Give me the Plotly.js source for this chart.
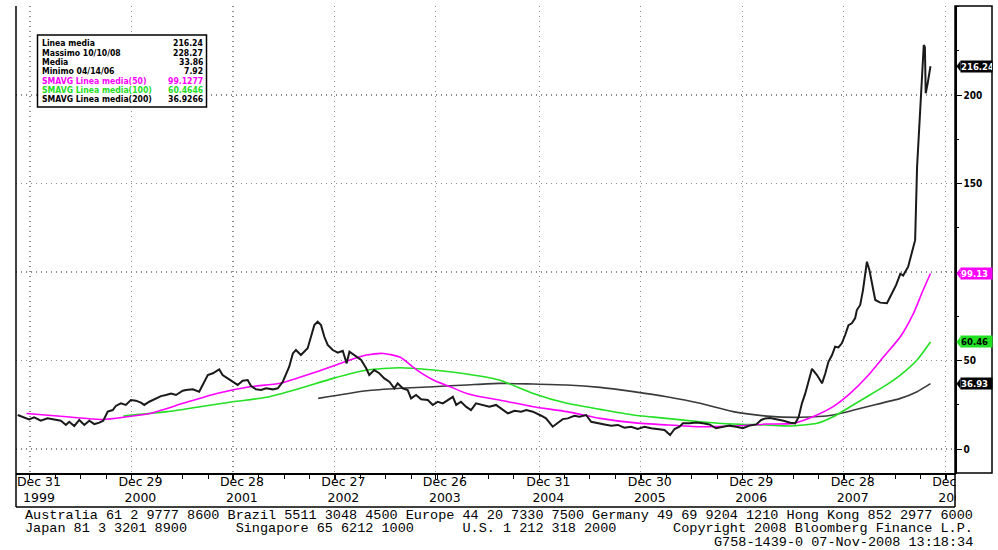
<!DOCTYPE html>
<html><head><meta charset="utf-8">
<script src="https://cdn.plot.ly/plotly-3.0.1.min.js"></script>
<style>html,body{margin:0;padding:0;background:#fff;}#chart{width:998px;height:550px;}</style>
</head><body><div id="chart"></div>
<script>
// ---- DATA ----
const priceDates = ['1999-11-17','1999-12-05','1999-12-28','2000-01-15','2000-02-08','2000-03-03','2000-03-27','2000-04-20','2000-05-08','2000-05-20','2000-06-07','2000-06-25','2000-07-13','2000-07-31','2000-08-18','2000-09-05','2000-09-19','2000-10-05','2000-10-23','2000-11-03','2000-11-21','2000-12-09','2000-12-27',
'2001-01-14','2001-02-01','2001-02-13','2001-03-03','2001-03-27','2001-04-14','2001-05-02','2001-05-20','2001-06-07','2001-07-01','2001-07-13','2001-08-06','2001-08-29','2001-09-16','2001-09-29','2001-10-17','2001-10-28','2001-11-09','2001-11-21','2001-12-09','2001-12-27',
'2002-01-14','2002-02-01','2002-02-19','2002-03-03','2002-03-21','2002-04-08','2002-04-26','2002-05-20','2002-06-07','2002-06-25','2002-07-07','2002-07-18','2002-07-31','2002-08-11','2002-08-29','2002-09-10','2002-09-22','2002-10-04','2002-10-16','2002-10-28','2002-11-09','2002-11-21','2002-12-03','2002-12-21',
'2003-01-08','2003-01-26','2003-02-09','2003-02-19','2003-03-09','2003-04-02','2003-04-20','2003-05-01','2003-05-19','2003-06-06','2003-06-24','2003-07-12','2003-07-30','2003-08-11','2003-08-29','2003-09-16','2003-09-28','2003-10-16','2003-11-03','2003-11-27','2003-12-15',
'2004-01-02','2004-01-20','2004-02-07','2004-02-25','2004-03-08','2004-03-25','2004-04-12','2004-04-30','2004-05-18','2004-06-11','2004-07-05','2004-07-29','2004-08-22','2004-09-09','2004-10-03','2004-10-27','2004-11-14','2004-12-08',
'2005-01-07','2005-01-24','2005-02-17','2005-03-07','2005-03-25','2005-04-12','2005-05-06','2005-05-24','2005-06-17','2005-07-05','2005-07-29','2005-08-22','2005-09-15','2005-10-09','2005-11-01','2005-11-25','2005-12-19',
'2006-01-12','2006-02-05','2006-03-01','2006-03-25','2006-04-14','2006-04-30','2006-05-18','2006-05-30','2006-06-23','2006-07-17','2006-08-10','2006-09-02','2006-09-26','2006-10-20','2006-11-13','2006-12-07','2006-12-31',
'2007-01-24','2007-02-17','2007-03-07','2007-03-22','2007-04-08','2007-05-02','2007-05-26','2007-06-19','2007-07-07','2007-07-19','2007-07-31','2007-08-12','2007-08-24','2007-09-05','2007-09-23','2007-10-11','2007-10-23','2007-11-03','2007-11-16','2007-11-27','2007-12-09','2007-12-21',
'2008-01-02','2008-01-14','2008-01-26','2008-02-07','2008-02-13','2008-02-25','2008-03-06','2008-03-14','2008-03-20','2008-03-29','2008-04-05','2008-04-19','2008-05-07','2008-05-31','2008-06-18','2008-07-03','2008-07-18','2008-07-28','2008-08-15','2008-08-29','2008-09-09','2008-09-16','2008-09-21','2008-09-30','2008-10-10','2008-10-14','2008-10-17','2008-10-24','2008-11-03'];
const priceVals = [19.2,18.2,16.7,17.9,16.0,17.3,16.7,16.0,13.6,15.4,13.0,16.4,13.6,16.0,14.1,14.9,16.0,21.1,22.0,24.3,25.8,24.9,27.7,
27.3,26.2,24.9,26.7,28.6,29.9,30.5,31.4,30.5,32.9,33.3,33.7,32.4,38.0,41.8,42.8,43.7,45.0,41.8,40.0,38.0,
36.2,38.6,39.0,35.6,33.7,33.3,34.3,33.7,34.3,38.0,42.8,46.5,54.0,55.9,53.1,55.0,56.9,63.4,70.0,71.9,70.0,63.4,58.8,55.9,
54.4,55.5,48.4,55.0,53.1,50.3,45.6,41.8,44.6,42.8,39.9,38.0,34.3,37.1,34.3,33.3,28.6,30.5,28.1,27.7,24.9,
26.7,25.8,27.7,29.5,24.9,26.7,23.9,22.0,25.8,24.9,23.9,24.9,22.0,20.1,21.6,21.1,22.0,21.1,
18.8,17.3,12.6,14.5,16.9,17.3,18.8,18.2,19.2,15.4,14.5,13.9,13.2,13.6,12.0,12.6,11.3,
12.6,11.7,11.3,10.7,7.92,11.3,12.6,14.5,14.5,15.0,14.5,13.9,11.7,12.6,13.2,12.6,11.7,
13.2,13.9,16.4,17.3,17.5,16.8,16.0,14.8,14.5,18.0,25.8,31.4,38.0,45.3,41.8,37.1,42.8,49.3,53.1,57.8,57.4,59.7,
64.4,70.0,71.0,74.0,78.5,81.4,89.8,100.2,105.8,101.1,95.0,84.2,82.7,82.4,88.0,92.7,99.0,98.0,103.0,112.4,118.0,159.5,174.6,204.7,228.27,227.0,201.0,206.6,216.24];

const sma50Dates = ['1999-12-19','2000-05-11','2000-09-18','2000-12-12','2001-03-06','2001-07-02','2001-10-31','2002-02-27','2002-06-15','2002-10-25','2003-02-21','2003-04-22','2003-06-21','2003-08-20','2003-10-19','2003-12-17','2004-02-15','2004-04-15','2004-06-14','2004-08-09','2004-12-09','2005-04-09','2005-08-06','2005-12-03','2006-04-02','2006-07-31','2006-11-26','2007-03-27','2007-06-30','2007-09-23','2007-11-20','2008-01-20','2008-03-20','2008-05-19','2008-07-18','2008-09-03','2008-10-03','2008-11-03'];
const sma50Vals = [20.1,18.2,16.7,18.2,20.1,25.8,31.4,35.2,37.1,43.7,50.3,53.1,54.0,51.8,44.6,39.0,35.2,31.4,29.2,27.7,23.9,21.1,17.3,14.9,13.6,12.6,13.0,14.1,14.5,19.2,23.9,31.4,40.8,52.1,63.4,76.6,88.0,99.13];

const sma100Dates = ['2000-11-30','2001-05-05','2001-09-01','2001-12-28','2002-04-28','2002-08-26','2002-12-22','2003-04-22','2003-08-20','2003-12-17','2004-04-15','2004-08-09','2004-12-09','2005-04-09','2005-08-06','2005-12-03','2006-04-02','2006-07-31','2006-11-26','2007-03-27','2007-06-19','2007-09-23','2007-11-20','2008-01-20','2008-03-20','2008-05-19','2008-07-18','2008-09-16','2008-11-03'];
const sma100Vals = [18.6,21.1,23.9,26.7,29.2,34.3,39.9,44.6,45.9,44.6,42.4,39.0,31.4,25.8,22.4,19.2,17.3,15.4,14.1,13.6,13.0,14.5,18.2,23.9,29.5,35.2,41.8,50.3,60.46];

const sma200Dates = ['2002-10-30','2003-04-22','2003-08-20','2003-12-17','2004-04-15','2004-08-09','2004-12-09','2005-04-09','2005-08-06','2005-12-03','2006-04-02','2006-07-31','2006-11-26','2007-03-27','2007-07-25','2007-11-20','2008-03-20','2008-07-18','2008-09-16','2008-11-03'];
const sma200Vals = [28.6,32.9,34.3,35.2,36.2,37.1,36.7,36.2,34.8,32.4,29.5,25.8,21.1,18.6,17.9,19.2,23.9,28.6,32.4,36.93];

const xTickDates = ['1999-12-31','2000-12-29','2001-12-28','2002-12-27','2003-12-26','2004-12-31','2005-12-30','2006-12-29','2007-12-28','2008-12-26'];
const xTickLabels = ['Dec 31<br>1999','Dec 29<br>2000','Dec 28<br>2001','Dec 27<br>2002','Dec 26<br>2003','Dec 31<br>2004','Dec 30<br>2005','Dec 29<br>2006','Dec 28<br>2007','Dec 26<br>2008'];
const yTicks = [0, 50, 100, 150, 200];
const yTickLabels = ['0', '50', '', '150', '200'];  // 100 is hidden behind the SMA(50) tag in the original

const legendLabels = ['Linea media','Massimo 10/10/08','Media','Minimo 04/14/06','SMAVG Linea media(50)','SMAVG Linea media(100)','SMAVG Linea media(200)'];
const legendValues = ['216.24','228.27','33.86','7.92','99.1277','60.4646','36.9266'];

const footerLines = [
 'Australia 61 2 9777 8600 Brazil 5511 3048 4500 Europe 44 20 7330 7500 Germany 49 69 9204 1210 Hong Kong 852 2977 6000',
 'Japan 81 3 3201 8900      Singapore 65 6212 1000      U.S. 1 212 318 2000       Copyright 2008 Bloomberg Finance L.P.',
 'G758-1439-0 07-Nov-2008 13:18:34'
];

// ---- STYLE / LAYOUT ----
const C_PRICE = '#1a1a1a', C50 = '#ff00ff', C100 = '#22e022', C200 = '#3a3a3a';
const legendColors = ['#000','#000','#000','#000',C50,C100,'#000'];
const L = 16, R = 955, T = 6, B = 473;
const px = x => (x - L) / (R - L);
const py = y => (B - y) / (B - T);

const traces = [
  {x: sma200Dates, y: sma200Vals, type:'scatter', mode:'lines', line:{color:C200, width:1.6, shape:'spline', smoothing:0.6}},
  {x: sma100Dates, y: sma100Vals, type:'scatter', mode:'lines', line:{color:C100, width:1.6, shape:'spline', smoothing:0.6}},
  {x: sma50Dates, y: sma50Vals, type:'scatter', mode:'lines', line:{color:C50, width:1.6, shape:'spline', smoothing:0.6}},
  {x: priceDates, y: priceVals, type:'scatter', mode:'lines', line:{color:C_PRICE, width:2}}
];

const gridStyle = {showgrid:true, gridcolor:'#8c8c8c', griddash:'1px,4px', gridwidth:1.2};

const annotations = [];
const lfont = {family:'DejaVu Sans Condensed, sans-serif', size:8.6, weight:'bold'};
legendLabels.forEach((t, i) => {
  const yy = py(43.3 + i * 9.33);
  annotations.push({xref:'paper', yref:'paper', x:px(40.5), y:yy, xanchor:'left', yanchor:'middle', showarrow:false, text:t, font:Object.assign({}, lfont, {color:legendColors[i]}), borderpad:0});
  annotations.push({xref:'paper', yref:'paper', x:px(204), y:yy, xanchor:'right', yanchor:'middle', showarrow:false, text:legendValues[i], font:Object.assign({}, lfont, {color:legendColors[i]}), borderpad:0});
});

const lastTags = [
  {v: priceVals[priceVals.length-1], bg:'#000', fg:'#fff'},
  {v: sma50Vals[sma50Vals.length-1], bg:C50, fg:'#fff'},
  {v: sma100Vals[sma100Vals.length-1], bg:C100, fg:'#000'},
  {v: sma200Vals[sma200Vals.length-1], bg:'#000', fg:'#fff'}
];
const shapes = [
  {type:'rect', xref:'paper', yref:'paper', x0:px(37.5), x1:px(206.5), y0:py(107), y1:py(35), fillcolor:'#fff', line:{color:'#000', width:1.5}, layer:'above'},
  {type:'rect', xref:'paper', yref:'paper', x0:px(956), x1:px(998), y0:py(508), y1:py(474), fillcolor:'#fff', line:{width:0}, layer:'above'},
  {type:'rect', xref:'paper', yref:'paper', x0:1, x1:px(992), y0:0, y1:1, line:{color:'#000', width:1.5}, layer:'above'},
  {type:'line', xref:'paper', yref:'paper', x0:0, x1:0, y0:py(507), y1:1, line:{color:'#000', width:1.5}, layer:'above'},
  {type:'line', xref:'paper', yref:'paper', x0:0, x1:1, y0:py(507), y1:py(507), line:{color:'#000', width:1.5}, layer:'above'},
  {type:'line', xref:'paper', yref:'paper', x0:1, x1:1, y0:py(507), y1:0, line:{color:'#000', width:1.5}, layer:'above'}
];
lastTags.forEach(tg => {
  shapes.push({type:'path', xref:'paper', yref:'y', xsizemode:'pixel', ysizemode:'pixel', xanchor:px(956.5), yanchor:tg.v, path:'M0,0L4,5.5L4,-5.5Z', fillcolor:tg.bg, line:{width:0}, layer:'above'});
  annotations.push({xref:'paper', yref:'y', x:px(960), y:tg.v, xanchor:'left', yanchor:'middle', showarrow:false, text:tg.v.toFixed(2), bgcolor:tg.bg, font:{family:'DejaVu Sans Condensed, sans-serif', size:9.5, weight:'bold', color:tg.fg}, width:31, height:11, align:'left', borderpad:0});
});
const ffont = {family:'Liberation Mono, DejaVu Sans Mono, monospace', size:13.5, color:'#000'};
[515, 528.5, 542].forEach((yy, i) => {
  annotations.push({xref:'paper', yref:'paper', x:px(973.5), y:py(yy), xanchor:'right', yanchor:'middle', showarrow:false, text:footerLines[i].replace(/ /g, '\u00a0'), font:ffont, borderpad:0});
});

const layout = {
  width:998, height:550, margin:{l:16, r:43, t:6, b:77},
  paper_bgcolor:'#fff', plot_bgcolor:'#fff', showlegend:false, hovermode:false,
  xaxis: Object.assign({type:'date', range:['1999-11-11','2009-01-30'], tickmode:'array', tickvals:xTickDates, ticktext:xTickLabels,
    ticks:'outside', ticklen:4, tickcolor:'#000', tickwidth:1, showline:true, linecolor:'#000', linewidth:1.5, zeroline:false,
    tickfont:{family:'DejaVu Sans, sans-serif', size:12.5, color:'#000'}, ticklabelshift:9, ticklabelstandoff:-8,
    minor:{tickmode:'linear', tick0:'1999-12-31', dtick:'M3', ticks:'outside', ticklen:4, tickcolor:'#000', showgrid:false}}, gridStyle),
  yaxis: Object.assign({side:'right', range:[-13.56, 250.3], tickmode:'array', tickvals:yTicks, ticktext:yTickLabels,
    ticks:'outside', ticklen:5, tickcolor:'#000', showline:true, linecolor:'#000', linewidth:1.5, zeroline:false,
    tickfont:{family:'DejaVu Sans Condensed, sans-serif', size:10, weight:'bold', color:'#000'},
    minor:{tickmode:'linear', tick0:0, dtick:25, ticks:'outside', ticklen:2, tickcolor:'#000', showgrid:false}}, gridStyle),
  shapes: shapes, annotations: annotations
};
Plotly.newPlot('chart', traces, layout, {staticPlot:true, displayModeBar:false});
</script></body></html>
